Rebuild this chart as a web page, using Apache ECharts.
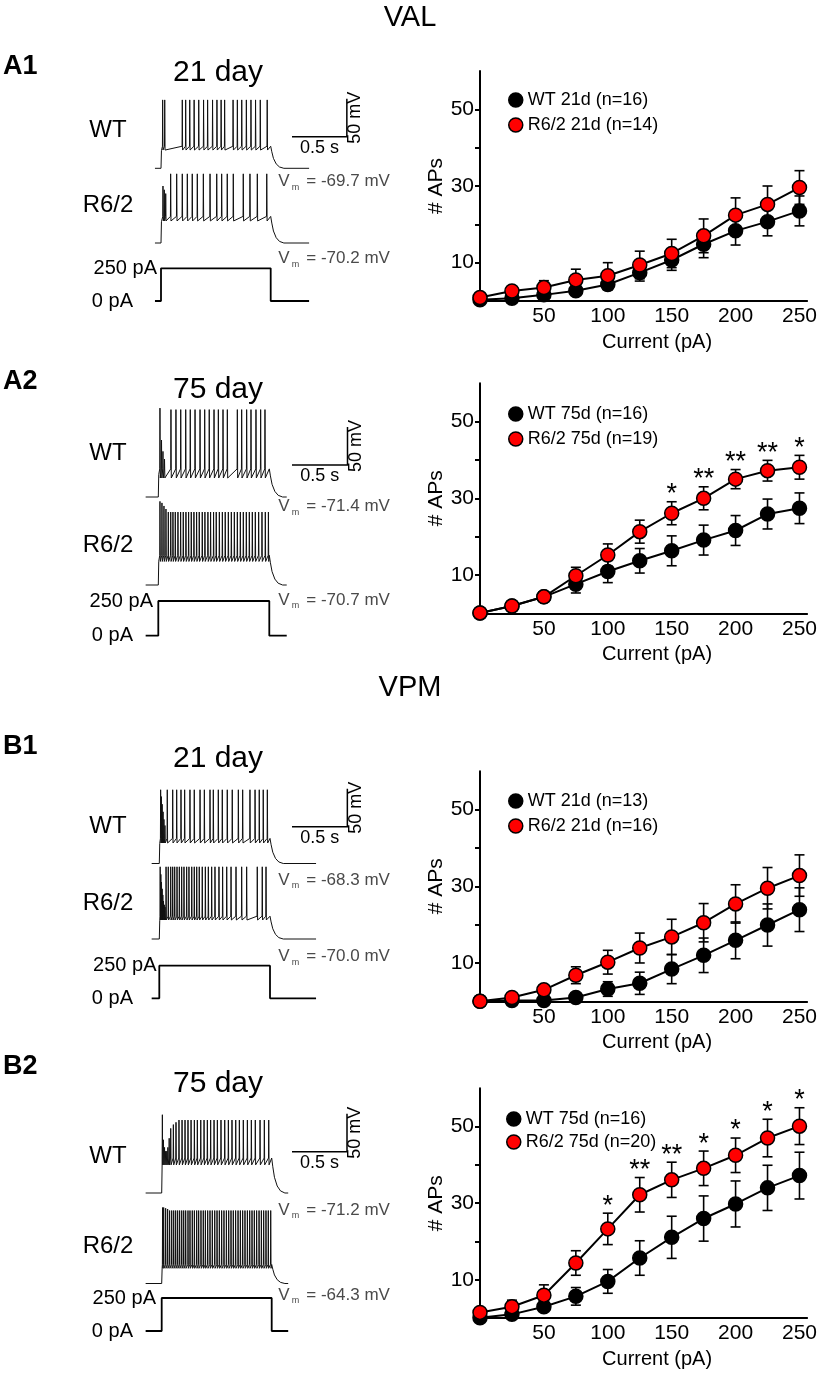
<!DOCTYPE html>
<html><head><meta charset="utf-8">
<script src="https://cdn.jsdelivr.net/npm/echarts@6/dist/echarts.min.js"></script>
<style>html,body{margin:0;padding:0;background:#fff}#c{width:820px;height:1373px}</style>
</head><body><div id="c"></div><script>
// ================= DATA =================
const currents = [0, 25, 50, 75, 100, 125, 150, 175, 200, 225, 250];
const xTickLabels = [50, 100, 150, 200, 250];
const yTickValues = [10, 20, 30, 40, 50];
const yTickLabels = [10, 30, 50];

// A1 (VAL, 21 day)
const A1_wtMean = [0.3, 0.7, 1.6, 2.7, 4.3, 7.4, 10.7, 14.8, 18.3, 20.7, 23.5];
const A1_wtErr  = [0.2, 0.4, 0.6, 0.9, 1.4, 2.2, 2.7, 3.5, 3.7, 3.7, 3.9];
const A1_r6Mean = [0.9, 2.6, 3.5, 5.5, 6.6, 9.4, 12.4, 17.0, 22.4, 25.2, 29.6];
const A1_r6Err  = [0.4, 1.0, 1.8, 2.8, 3.4, 3.6, 3.7, 4.4, 4.5, 4.8, 4.4];
const A1_stars  = ['', '', '', '', '', '', '', '', '', '', ''];
// A2 (VAL, 75 day)
const A2_wtMean = [0.1, 1.9, 4.3, 7.6, 10.9, 13.7, 16.3, 19.1, 21.6, 25.9, 27.4];
const A2_wtErr  = [0.1, 0.4, 0.8, 2.3, 2.9, 3.2, 3.9, 3.9, 3.9, 3.9, 4.0];
const A2_r6Mean = [0.1, 1.9, 4.3, 9.8, 15.2, 21.3, 26.1, 30.0, 35.0, 37.2, 38.1];
const A2_r6Err  = [0.1, 0.5, 1.0, 2.2, 2.9, 3.0, 3.0, 3.0, 2.5, 2.7, 3.1];
const A2_stars  = ['', '', '', '', '', '', '*', '**', '**', '**', '*'];
// B1 (VPM, 21 day)
const B1_wtMean = [0.0, 0.2, 0.2, 1.0, 3.2, 4.7, 8.4, 12.0, 15.9, 19.9, 23.9];
const B1_wtErr  = [0.0, 0.1, 0.2, 0.4, 1.9, 2.9, 3.8, 4.5, 4.8, 5.5, 5.7];
const B1_r6Mean = [0.0, 1.0, 3.0, 6.8, 10.2, 13.9, 16.8, 20.5, 25.4, 29.5, 32.8];
const B1_r6Err  = [0.0, 0.4, 0.8, 2.2, 3.1, 3.9, 4.6, 5.0, 5.0, 5.4, 5.4];
const B1_stars  = ['', '', '', '', '', '', '', '', '', '', ''];
// B2 (VPM, 75 day)
const B2_wtMean = [0.1, 1.0, 3.0, 5.7, 9.6, 15.7, 21.1, 26.0, 29.8, 34.0, 37.2];
const B2_wtErr  = [0.1, 0.4, 0.9, 2.3, 3.1, 4.5, 5.5, 5.9, 6.0, 5.9, 6.1];
const B2_r6Mean = [1.5, 3.0, 6.0, 14.4, 23.3, 32.2, 36.1, 39.1, 42.5, 47.0, 50.1];
const B2_r6Err  = [0.5, 1.7, 2.7, 3.2, 4.1, 4.5, 4.6, 4.5, 4.5, 4.9, 4.8];
const B2_stars  = ['', '', '', '', '*', '**', '**', '*', '*', '*', '*'];

const legendNames = {
  A1: ['WT 21d (n=16)', 'R6/2 21d (n=14)'],
  A2: ['WT 75d (n=16)', 'R6/2 75d (n=19)'],
  B1: ['WT 21d (n=13)', 'R6/2 21d (n=16)'],
  B2: ['WT 75d (n=16)', 'R6/2 75d (n=20)']
};
// resting potentials (mV) [WT, R6/2]
const restVm = { A1: [-69.7, -70.2], A2: [-71.4, -70.7], B1: [-68.3, -70.0], B2: [-71.2, -64.3] };
const stepCurrent = [0, 250];      // pA
const stepTimes = [0, 1.0];        // s
const scaleBar = [0.5, 50];        // s, mV

// spike times (s)
const A1_wtSpikes = [0.015, 0.034, 0.194, 0.225, 0.262, 0.302, 0.344, 0.388, 0.425, 0.470, 0.510, 0.548, 0.580, 0.657, 0.696, 0.736, 0.778, 0.820, 0.862, 0.905, 0.968];
const A1_r6Spikes = [0.018, 0.030, 0.043, 0.088, 0.143, 0.194, 0.240, 0.285, 0.331, 0.386, 0.447, 0.508, 0.553, 0.604, 0.659, 0.750, 0.811, 0.878, 0.964];
const A2_wtSpikes = [0.015, 0.029, 0.042, 0.056, 0.114, 0.159, 0.202, 0.247, 0.288, 0.331, 0.376, 0.418, 0.459, 0.502, 0.541, 0.583, 0.622, 0.712, 0.751, 0.796, 0.835, 0.880, 0.922, 0.961];
const A2_r6Spikes = [0.015, 0.033, 0.051, 0.069, 0.090, 0.112, 0.132, 0.153, 0.177, 0.201, 0.225, 0.249, 0.273, 0.297, 0.321, 0.345, 0.369, 0.396, 0.420, 0.447, 0.471, 0.498, 0.522, 0.550, 0.577, 0.603, 0.631, 0.658, 0.685, 0.712, 0.739, 0.766, 0.793, 0.820, 0.847, 0.874, 0.904, 0.934, 0.964, 0.992];
const B1_wtSpikes = [0.012, 0.019, 0.026, 0.034, 0.042, 0.051, 0.072, 0.121, 0.157, 0.196, 0.229, 0.277, 0.316, 0.368, 0.407, 0.458, 0.488, 0.533, 0.569, 0.614, 0.659, 0.714, 0.753, 0.819, 0.865, 0.903, 0.939, 0.976];
const B1_r6Spikes = [0.008, 0.014, 0.020, 0.026, 0.032, 0.038, 0.045, 0.052, 0.061, 0.081, 0.103, 0.121, 0.139, 0.160, 0.181, 0.202, 0.223, 0.247, 0.268, 0.293, 0.316, 0.338, 0.361, 0.388, 0.416, 0.443, 0.473, 0.503, 0.539, 0.572, 0.609, 0.648, 0.693, 0.744, 0.789, 0.885, 0.930, 0.964];
const B2_wtSpikes = [0.006, 0.016, 0.026, 0.036, 0.046, 0.056, 0.068, 0.082, 0.106, 0.130, 0.157, 0.185, 0.212, 0.239, 0.267, 0.297, 0.324, 0.355, 0.385, 0.415, 0.445, 0.476, 0.506, 0.539, 0.573, 0.606, 0.639, 0.673, 0.706, 0.742, 0.779, 0.815, 0.851, 0.894, 0.933, 0.973];
const B2_r6Spikes = [0.008, 0.018, 0.036, 0.054, 0.072, 0.091, 0.109, 0.127, 0.145, 0.163, 0.182, 0.200, 0.218, 0.239, 0.257, 0.278, 0.297, 0.318, 0.336, 0.357, 0.378, 0.397, 0.418, 0.439, 0.460, 0.482, 0.503, 0.524, 0.545, 0.566, 0.588, 0.609, 0.630, 0.651, 0.672, 0.694, 0.715, 0.736, 0.757, 0.779, 0.800, 0.821, 0.842, 0.863, 0.885, 0.906, 0.927, 0.948, 0.969, 0.991];

// trace voltage levels relative to rest (mV): [peak, threshold, trough]
const A1_wtLevels = [90, 29, 24];   const A1_wtLead = [];
const A1_r6Levels = [91, 35, 29];   const A1_r6Lead = [75, 70, 65];
const A2_wtLevels = [115, 37, 25];  const A2_wtLead = [117, 75, 60, 50];
const A2_r6Levels = [96, 39, 31];   const A2_r6Lead = [110, 108, 104, 100];
const B1_wtLevels = [97, 33, 27];   const B1_wtLead = [97, 88, 78, 68, 58, 50];
const B1_r6Levels = [95, 30, 25];   const B1_r6Lead = [95, 85, 75, 66, 58, 50, 45, 42];
const B2_wtLevels = [96, 46, 37];   const B2_wtLead = [103, 70, 60, 55, 55, 60, 72, 85, 90, 93];
const B2_r6Levels = [96, 25, 20];   const B2_r6Lead = [100, 100, 99, 98];

// ================= LAYOUT / STYLE =================
const FONT = '"Liberation Sans", Arial, Helvetica, sans-serif';
const PX_PER_MV = 0.76;
const DECAY_DT = [0.01, 0.025, 0.05, 0.08, 0.12];
const DECAY_F  = [0.75, 0.45, 0.2, 0.06, 0];

const panels = [
  { id: 'A1', label: 'A1', title: '21 day', labelY: 67, titleY: 73,
    t0x: 161, pps: 109.7, tStart: -0.055, tEnd: 1.35,
    wtBase: 168.3, r6Base: 243, wtLabelY: 130, r6LabelY: 205,
    vmY: [181.7, 258.3], cur250Y: 268.3, cur0Y: 301, barY: 136.7, r250: 157,
    chartTop: 71, legTop: 91, legLeft: 508, legGap: 7,
    wt: [A1_wtMean, A1_wtErr, A1_wtSpikes, A1_wtLevels, A1_wtLead],
    r6: [A1_r6Mean, A1_r6Err, A1_r6Spikes, A1_r6Levels, A1_r6Lead], stars: A1_stars },
  { id: 'A2', label: 'A2', title: '75 day', labelY: 382, titleY: 390,
    t0x: 158.3, pps: 111, tStart: -0.114, tEnd: 1.157,
    wtBase: 497, r6Base: 585, wtLabelY: 453.3, r6LabelY: 545,
    vmY: [506.7, 600], cur250Y: 601, cur0Y: 635.7, barY: 465, r250: 153,
    chartTop: 383.3, legTop: 405, legLeft: 508, legGap: 7,
    wt: [A2_wtMean, A2_wtErr, A2_wtSpikes, A2_wtLevels, A2_wtLead],
    r6: [A2_r6Mean, A2_r6Err, A2_r6Spikes, A2_r6Levels, A2_r6Lead], stars: A2_stars },
  { id: 'B1', label: 'B1', title: '21 day', labelY: 746.7, titleY: 758.3,
    t0x: 159.3, pps: 110.7, tStart: -0.069, tEnd: 1.416,
    wtBase: 863.5, r6Base: 939, wtLabelY: 826.7, r6LabelY: 903.3,
    vmY: [880, 956.7], cur250Y: 965.7, cur0Y: 998.3, barY: 826.7, r250: 156.5,
    chartTop: 771.3, legTop: 792, legLeft: 508, legGap: 7,
    wt: [B1_wtMean, B1_wtErr, B1_wtSpikes, B1_wtLevels, B1_wtLead],
    r6: [B1_r6Mean, B1_r6Err, B1_r6Spikes, B1_r6Levels, B1_r6Lead], stars: B1_stars },
  { id: 'B2', label: 'B2', title: '75 day', labelY: 1066.7, titleY: 1083.3,
    t0x: 161.7, pps: 110, tStart: -0.146, tEnd: 1.15,
    wtBase: 1193, r6Base: 1283.5, wtLabelY: 1156.7, r6LabelY: 1246.7,
    vmY: [1210, 1295], cur250Y: 1298, cur0Y: 1331, barY: 1151.7, r250: 156,
    chartTop: 1088.2, legTop: 1110, legLeft: 506, legGap: 5,
    wt: [B2_wtMean, B2_wtErr, B2_wtSpikes, B2_wtLevels, B2_wtLead],
    r6: [B2_r6Mean, B2_r6Err, B2_r6Spikes, B2_r6Levels, B2_r6Lead], stars: B2_stars }
];

// ================= BUILD =================
function buildTrace(rest, spikes, levels, lead, tStart, tEnd) {
  const [peak, thr, trough] = levels;
  const pts = [[tStart, rest], [stepTimes[0], rest], [stepTimes[0] + 0.004, rest + thr * 0.8]];
  spikes.forEach((t, i) => {
    const pk = i < lead.length ? lead[i] : peak;
    pts.push([t - 0.002, rest + thr]);
    pts.push([t, rest + pk]);
    pts.push([t + 0.003, rest + trough]);
  });
  const tOff = stepTimes[1];
  pts.push([tOff, rest + thr]);
  DECAY_DT.forEach((dt, i) => pts.push([tOff + dt, rest + thr * DECAY_F[i]]));
  pts.push([tEnd, rest]);
  return pts;
}

const option = { animation: false, grid: [], xAxis: [], yAxis: [], series: [], legend: [], graphic: { elements: [] } };
function addGrid(g, xa, ya) {
  option.grid.push(Object.assign({ containLabel: false }, g));
  const i = option.grid.length - 1;
  option.xAxis.push(Object.assign({ gridIndex: i }, xa));
  option.yAxis.push(Object.assign({ gridIndex: i }, ya));
  return i;
}
const G = option.graphic.elements;
function txt(text, x, y, size, opts) {
  opts = opts || {};
  G.push({ type: 'text', x: x, y: y, rotation: opts.rot || 0, silent: true,
    style: { text: text, fontSize: size, fontFamily: FONT, fontWeight: opts.bold ? 'bold' : 'normal',
      fill: opts.color || '#000', align: opts.align || 'center', verticalAlign: 'middle',
      textAlign: opts.align || 'center', textVerticalAlign: 'middle' } });
}
function vmLabel(x, y, v) {
  const c = '#4a4a4a';
  txt('V', x, y, 17, { align: 'left', color: c });
  txt('m', x + 13.5, y + 6, 9, { align: 'left', color: c });
  txt('= ' + v.toFixed(1) + ' mV', x + 28, y, 17, { align: 'left', color: c });
}
function errRender(params, api) {
  const x = api.value(0), m = api.value(1), e = api.value(2);
  const top = api.coord([x, m + e]), bot = api.coord([x, m - e]);
  const hw = 5, st = { stroke: '#000', lineWidth: 1.6 };
  return { type: 'group', children: [
    { type: 'line', shape: { x1: top[0], y1: top[1], x2: bot[0], y2: bot[1] }, style: st },
    { type: 'line', shape: { x1: top[0] - hw, y1: top[1], x2: top[0] + hw, y2: top[1] }, style: st },
    { type: 'line', shape: { x1: bot[0] - hw, y1: bot[1], x2: bot[0] + hw, y2: bot[1] }, style: st }
  ] };
}

txt('VAL', 410, 18, 29);
txt('VPM', 410, 688, 29);

panels.forEach(P => {
  const span = P.tEnd - P.tStart;
  const gLeft = P.t0x + P.tStart * P.pps, gWidth = span * P.pps;
  const rests = restVm[P.id];
  // voltage traces
  [[P.wt, P.wtBase, rests[0]], [P.r6, P.r6Base, rests[1]]].forEach(([d, base, rest]) => {
    const gi = addGrid({ left: gLeft, width: gWidth, top: base - 140 * PX_PER_MV, height: 160 * PX_PER_MV },
      { type: 'value', min: P.tStart, max: P.tEnd, show: false },
      { type: 'value', min: rest - 20, max: rest + 140, show: false });
    option.series.push({ type: 'line', xAxisIndex: gi, yAxisIndex: gi, symbol: 'none', silent: true, clip: false,
      lineStyle: { color: '#111', width: 1 }, data: buildTrace(rest, d[2], d[3], d[4], P.tStart, P.tEnd) });
  });
  // current step
  const ci = addGrid({ left: gLeft, width: gWidth, top: P.cur250Y, height: P.cur0Y - P.cur250Y },
    { type: 'value', min: P.tStart, max: P.tEnd, show: false },
    { type: 'value', min: stepCurrent[0], max: stepCurrent[1], show: false });
  option.series.push({ type: 'line', xAxisIndex: ci, yAxisIndex: ci, symbol: 'none', silent: true, clip: false,
    lineStyle: { color: '#000', width: 1.8 },
    data: [[P.tStart, stepCurrent[0]], [stepTimes[0], stepCurrent[0]], [stepTimes[0], stepCurrent[1]],
           [stepTimes[1], stepCurrent[1]], [stepTimes[1], stepCurrent[0]], [P.tEnd, stepCurrent[0]]] });

  // texts
  txt(P.label, 3, P.labelY, 27, { align: 'left', bold: true });
  txt(P.title, 218, P.titleY, 30);
  txt('WT', 108, P.wtLabelY, 24);
  txt('R6/2', 108, P.r6LabelY, 24);
  txt(stepCurrent[1] + ' pA', P.r250, P.cur250Y, 20, { align: 'right' });
  txt(stepCurrent[0] + ' pA', 133, P.cur0Y, 20, { align: 'right' });
  vmLabel(278.3, P.vmY[0], rests[0]);
  vmLabel(278.3, P.vmY[1], rests[1]);
  // scale bar
  const bx0 = 292, bx1 = bx0 + scaleBar[0] * P.pps, by = P.barY, byTop = by - scaleBar[1] * PX_PER_MV;
  G.push({ type: 'polyline', silent: true, shape: { points: [[bx0, by], [bx1, by], [bx1, byTop]] },
    style: { stroke: '#000', lineWidth: 1.5, fill: null } });
  txt(scaleBar[0] + ' s', (bx0 + bx1) / 2, by + 11.5, 18);
  txt(scaleBar[1] + ' mV', bx1 + 8.5, (by + byTop) / 2, 18, { rot: Math.PI / 2 });

  // F-I chart
  const gi = addGrid({ left: 480, width: 256 * 1.28, top: P.chartTop, height: 230 },
    { type: 'value', min: 0, max: 256,
      axisLine: { show: true, onZero: false, lineStyle: { color: '#000', width: 2 } },
      axisTick: { show: false }, splitLine: { show: false },
      axisLabel: { customValues: xTickLabels, fontSize: 21, color: '#000', margin: 5, fontFamily: FONT },
      name: 'Current (pA)', nameLocation: 'middle', nameGap: 31,
      nameTextStyle: { fontSize: 20, color: '#000', fontFamily: FONT, padding: [0, 0, 0, 27] } },
    { type: 'value', min: 0, max: 60, interval: 10,
      axisLine: { show: true, onZero: false, lineStyle: { color: '#000', width: 2 } },
      axisTick: { show: true, customValues: yTickValues, length: 5, lineStyle: { color: '#000', width: 2 } },
      splitLine: { show: false },
      axisLabel: { customValues: yTickLabels, fontSize: 21, color: '#000', margin: 6, fontFamily: FONT },
      name: '# APs', nameLocation: 'middle', nameGap: 31, nameRotate: 90,
      nameTextStyle: { fontSize: 21, color: '#000', fontFamily: FONT } });
  const names = legendNames[P.id];
  [[P.wt, '#000000', names[0], 3], [P.r6, '#ff0000', names[1], 5]].forEach(([d, col, nm, z]) => {
    option.series.push({ type: 'custom', xAxisIndex: gi, yAxisIndex: gi, silent: true, clip: false, z: z - 1,
      renderItem: errRender, encode: { x: 0, y: [1] },
      data: currents.map((c, i) => [c, d[0][i], d[1][i]]) });
    option.series.push({ type: 'line', name: nm, xAxisIndex: gi, yAxisIndex: gi, clip: false, z: z,
      symbol: 'circle', symbolSize: 14, silent: true,
      itemStyle: { color: col, borderColor: '#000', borderWidth: 1.5 },
      lineStyle: { color: '#000', width: 2 },
      data: currents.map((c, i) => [c, d[0][i]]) });
  });
  const stars = P.stars, r6 = P.r6;
  option.series.push({ type: 'custom', xAxisIndex: gi, yAxisIndex: gi, silent: true, clip: false, z: 7,
    encode: { x: 0, y: [1] },
    data: currents.map((c, i) => [c, r6[0][i] + r6[1][i]]),
    renderItem: (params, api) => {
      const s = stars[params.dataIndex];
      if (!s) return null;
      const p = api.coord([api.value(0), api.value(1)]);
      return { type: 'text', x: p[0], y: p[1] - 7,
        style: { text: s, fontSize: 27, fontFamily: FONT, fill: '#000', align: 'center', verticalAlign: 'middle',
          textAlign: 'center', textVerticalAlign: 'middle' } };
    } });
  option.legend.push({ data: names, left: P.legLeft, top: P.legTop, orient: 'vertical', icon: 'circle',
    itemWidth: 14, itemHeight: 14, itemGap: P.legGap, selectedMode: false, padding: 0,
    itemStyle: { borderColor: '#000', borderWidth: 1.5 },
    textStyle: { fontSize: 18, color: '#000', fontFamily: FONT } });
});

const chart = echarts.init(document.getElementById('c'), null, { renderer: 'canvas' });
chart.setOption(option);
</script></body></html>
